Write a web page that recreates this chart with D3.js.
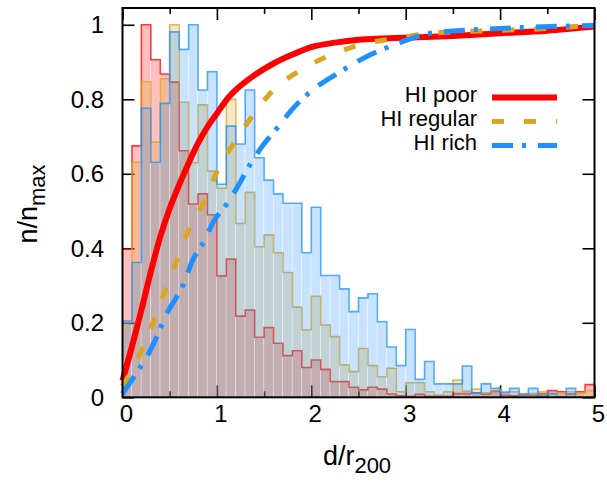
<!DOCTYPE html>
<html lang="en">
<head>
    <meta charset="UTF-8">
    <title>HI distance histograms</title>
    <script type="text/javascript" src="https://cdn.jsdelivr.net/npm/d3@7"></script>
    <style>
        body { margin: 0; background: #fff; }
        text { font-family: "Liberation Sans", Arial, Helvetica, sans-serif; fill: #000; }
    </style>
</head>
<body>
    <script type="text/javascript">
        // histogram bins: 0.1 wide, from 0 to 5
        var binWidth = 0.1;
        var poorHist = [0.398, 0.675, 1.0, 0.906, 0.868, 0.846, 0.662, 0.519, 0.546, 0.49,
            0.326, 0.371, 0.218, 0.234, 0.161, 0.187, 0.145, 0.112, 0.125, 0.080,
            0.10, 0.075, 0.042, 0.042, 0.027, 0.020, 0.027, 0.022, 0.009, 0.004,
            0.003, 0.008, 0.003, 0.003, 0.003, 0.010, 0.010, 0.012, 0.008, 0.016,
            0.006, 0.004, 0.006, 0.006, 0.010, 0.018, 0.015, 0.009, 0.015, 0.034];
        var regularHist = [0.2, 0.631, 0.847, 0.685, 0.855, 1.0, 0.792, 0.63, 0.785, 0.607,
            0.561, 0.80, 0.467, 0.550, 0.404, 0.436, 0.388, 0.335, 0.242, 0.181,
            0.271, 0.194, 0.163, 0.087, 0.069, 0.131, 0.085, 0.055, 0.078, 0.015,
            0.039, 0.039, 0.015, 0.006, 0.015, 0.046, 0.016, 0.022, 0.012, 0.018,
            0.015, 0.015, 0.010, 0.010, 0.015, 0.010, 0.010, 0.015, 0.010, 0.018];
        var richHist = [0.205, 0.362, 0.776, 0.631, 0.789, 0.981, 0.934, 1.0, 0.825, 0.874,
            0.572, 0.728, 0.68, 0.825, 0.643, 0.583, 0.546, 0.521, 0.521, 0.388,
            0.510, 0.327, 0.327, 0.291, 0.230, 0.267, 0.278, 0.203, 0.135, 0.085,
            0.182, 0.048, 0.096, 0.036, 0.036, 0.036, 0.084, 0.012, 0.036, 0.024,
            0.013, 0.024, 0.008, 0.024, 0.005, 0.010, 0.002, 0.024, 0.0, 0.0];

        // cumulative curves [d/r200, n/nmax]
        var poorCum = [[0, 0.045], [0.1, 0.136], [0.2, 0.234], [0.3, 0.337], [0.4, 0.431], [0.5, 0.507],
            [0.6, 0.57], [0.7, 0.628], [0.8, 0.682], [0.9, 0.726], [1.0, 0.762], [1.1, 0.798],
            [1.2, 0.825], [1.4, 0.865], [1.6, 0.896], [1.8, 0.92], [2.0, 0.94], [2.25, 0.952],
            [2.5, 0.96], [2.75, 0.963], [3.0, 0.965], [3.5, 0.97], [4.0, 0.977], [4.5, 0.984], [5.0, 0.995]];
        var regularCum = [[0, 0.03], [0.165, 0.105], [0.305, 0.19], [0.447, 0.283], [0.57, 0.364],
            [0.694, 0.445], [0.863, 0.525], [1.0, 0.605], [1.18, 0.682], [1.37, 0.753], [1.58, 0.82],
            [1.88, 0.877], [2.2, 0.918], [2.5, 0.945], [2.94, 0.965], [3.3, 0.978], [4.0, 0.985],
            [4.5, 0.99], [5.0, 1.0]];
        var richCum = [[0, 0.01], [0.11, 0.051], [0.305, 0.131], [0.48, 0.23], [0.64, 0.30], [0.745, 0.369],
            [0.85, 0.413], [0.975, 0.476], [1.105, 0.519], [1.23, 0.57], [1.35, 0.624], [1.49, 0.677],
            [1.645, 0.725], [1.79, 0.771], [1.97, 0.816], [2.3, 0.873], [2.62, 0.919], [2.94, 0.952],
            [3.26, 0.977], [4.0, 0.99], [5.0, 0.998]];

        var xTicks = [0, 1, 2, 3, 4, 5];
        var xMinor = [0.5, 1.5, 2.5, 3.5, 4.5];
        var yTicks = [0, 0.2, 0.4, 0.6, 0.8, 1];
        var legendLabels = ["HI poor", "HI regular", "HI rich"];

        var w = 607;
        var h = 489;
        // note: "top" is taken by window.top, so use px* names
        var pxLeft = 122.5, pxRight = 594.5, pxTop = 8, pxBottom = 397.3;

        var svg = d3.select("body").append("svg")
            .attr("width", w)
            .attr("height", h);

        var xScale = d3.scaleLinear().domain([0, 5]).range([pxLeft, pxRight]);
        var yScale = d3.scaleLinear().domain([0, 1.045]).range([pxBottom, pxTop]);

        // ticks first, the histograms cover them
        var ticks = svg.append("g");
        ticks.append("g")
            .attr("transform", "translate(0," + pxBottom + ")")
            .call(d3.axisTop(xScale).tickValues(xTicks).tickSize(12).tickFormat(""));
        ticks.append("g")
            .attr("transform", "translate(0," + pxBottom + ")")
            .call(d3.axisTop(xScale).tickValues(xMinor).tickSize(6).tickFormat(""));
        ticks.append("g")
            .attr("transform", "translate(0," + pxTop + ")")
            .call(d3.axisBottom(xScale).tickValues(xTicks).tickSize(12).tickFormat(""));
        ticks.append("g")
            .attr("transform", "translate(0," + pxTop + ")")
            .call(d3.axisBottom(xScale).tickValues(xMinor).tickSize(6).tickFormat(""));
        ticks.append("g")
            .attr("transform", "translate(" + pxLeft + ",0)")
            .call(d3.axisRight(yScale).tickValues(yTicks).tickSize(12).tickFormat(""));
        ticks.append("g")
            .attr("transform", "translate(" + pxRight + ",0)")
            .call(d3.axisLeft(yScale).tickValues(yTicks).tickSize(12).tickFormat(""));
        ticks.selectAll(".domain").remove();
        ticks.selectAll("text").remove();
        ticks.selectAll("line").attr("stroke", "#000").attr("stroke-width", 1.6);

        var series = [
            {hist: poorHist, cum: poorCum, color: "#ff0000", dash: null},
            {hist: regularHist, cum: regularCum, color: "#daa520", dash: "12,20"},
            {hist: richHist, cum: richCum, color: "#1e90ff", dash: "21,9,4,12"}
        ];

        var step = d3.line()
            .x(function(d) { return xScale(d[0]); })
            .y(function(d) { return yScale(d[1]); })
            .curve(d3.curveStepAfter);

        series.forEach(function(s) {
            svg.append("g").selectAll("rect")
                .data(s.hist)
                .enter()
                .append("rect")
                .attr("x", function(d, i) { return xScale(i * binWidth); })
                .attr("width", xScale(binWidth) - xScale(0) - 0.6)
                .attr("y", function(d) { return yScale(d); })
                .attr("height", function(d) { return yScale(0) - yScale(d); })
                .attr("fill", s.color)
                .attr("fill-opacity", 0.25);

            var pts = s.hist.map(function(d, i) { return [i * binWidth, d]; });
            pts.push([5, s.hist[s.hist.length - 1]]);
            svg.append("path")
                .attr("d", step(pts))
                .attr("fill", "none")
                .attr("stroke", s.color)
                .attr("stroke-opacity", 0.75)
                .attr("stroke-width", 1.6);
        });

        var curve = d3.line()
            .x(function(d) { return xScale(d[0]); })
            .y(function(d) { return yScale(d[1]); })
            .curve(d3.curveMonotoneX);

        series.forEach(function(s) {
            svg.append("path")
                .attr("d", curve(s.cum))
                .attr("fill", "none")
                .attr("stroke", s.color)
                .attr("stroke-width", s.dash ? 5 : 6)
                .attr("stroke-dasharray", s.dash);
        });

        // frame
        svg.append("rect")
            .attr("x", pxLeft)
            .attr("y", pxTop)
            .attr("width", pxRight - pxLeft)
            .attr("height", pxBottom - pxTop)
            .attr("fill", "none")
            .attr("stroke", "#000")
            .attr("stroke-width", 2);

        // tick labels
        svg.selectAll(".xlab")
            .data(xTicks)
            .enter()
            .append("text")
            .attr("class", "xlab")
            .attr("x", function(d) { return xScale(d) + 4; })
            .attr("y", 422)
            .attr("text-anchor", "middle")
            .style("font-size", "24px")
            .text(function(d) { return d; });

        svg.selectAll(".ylab")
            .data(yTicks)
            .enter()
            .append("text")
            .attr("class", "ylab")
            .attr("x", 104)
            .attr("y", function(d) { return yScale(d) + 8.5; })
            .attr("text-anchor", "end")
            .style("font-size", "24px")
            .text(function(d) { return d; });

        // axis titles
        var xt = svg.append("text")
            .attr("x", 357)
            .attr("y", 465)
            .attr("text-anchor", "middle")
            .style("font-size", "27px");
        xt.append("tspan").text("d/r");
        xt.append("tspan").attr("dy", 8).style("font-size", "22px").text("200");

        var yt = svg.append("text")
            .attr("transform", "translate(37,204) rotate(-90)")
            .attr("text-anchor", "middle")
            .style("font-size", "27px");
        yt.append("tspan").text("n/n");
        yt.append("tspan").attr("dy", 8).style("font-size", "22px").text("max");

        // legend
        var legend = svg.append("g");
        legendLabels.forEach(function(lab, i) {
            var y = 97.5 + i * 24;
            legend.append("text")
                .attr("x", 477)
                .attr("y", y + 4.5)
                .attr("text-anchor", "end")
                .style("font-size", "22px")
                .text(lab);
            legend.append("line")
                .attr("x1", 492)
                .attr("x2", 557)
                .attr("y1", y)
                .attr("y2", y)
                .attr("stroke", series[i].color)
                .attr("stroke-width", series[i].dash ? 5 : 6)
                .attr("stroke-dasharray", series[i].dash);
        });
    </script>
</body>
</html>
